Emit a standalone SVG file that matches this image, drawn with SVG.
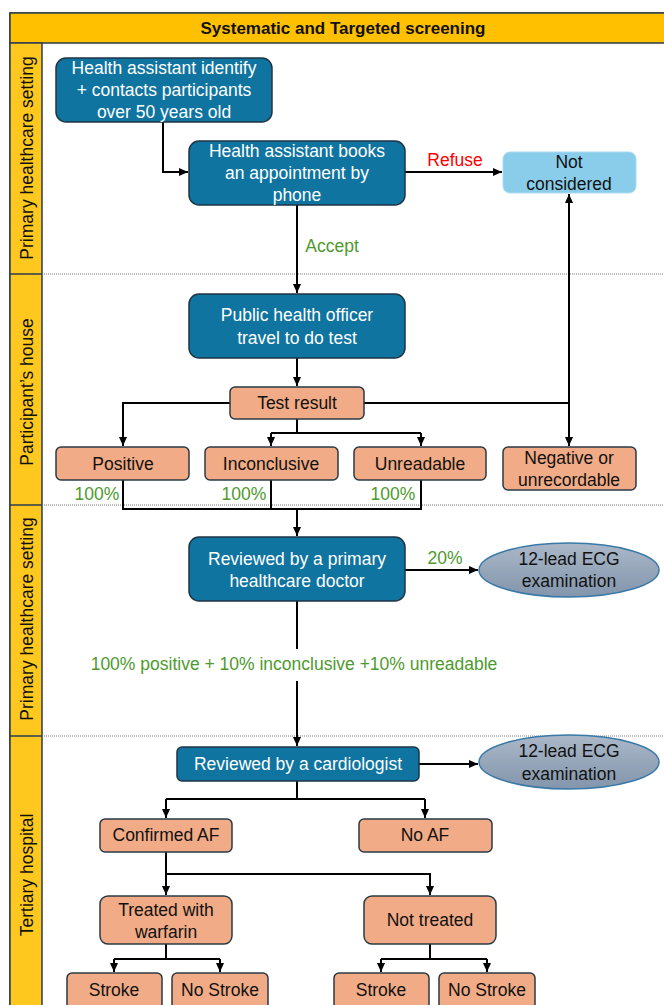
<svg xmlns="http://www.w3.org/2000/svg" width="664" height="1005" viewBox="0 0 664 1005">
<style>
text{font-family:"Liberation Sans",Arial,sans-serif;font-size:17.5px;text-anchor:middle;dominant-baseline:central}
.blue{fill:#0F74A0;stroke:#1E3544;stroke-width:1.5}
.sal{fill:#F1AB86;stroke:#2B3A44;stroke-width:1.5}
.w{fill:#fff}
.k{fill:#111}
.g{fill:#4E9A2E}
.r{fill:#FF0000}
.c{fill:none;stroke:#000;stroke-width:2}
.sep{stroke:#777;stroke-width:1;stroke-dasharray:1 1}
.ell{fill:url(#eg);stroke:#3B79A8;stroke-width:1.5}
.lane{font-size:17.5px;fill:#111}
</style>
<defs>
<marker id="ah" markerWidth="9" markerHeight="8" refX="9" refY="4" orient="auto" markerUnits="userSpaceOnUse">
<path d="M0,0 L9,4 L0,8 z" fill="#000"/>
</marker>
<linearGradient id="eg" x1="0" y1="0" x2="0" y2="1">
<stop offset="0" stop-color="#AAB8C8"/>
<stop offset="1" stop-color="#8395AC"/>
</linearGradient>
</defs>

<g id="frame">
<rect x="10" y="13" width="660" height="1000" fill="#fff" stroke="#2E3B4E" stroke-width="1.5"/>
<rect x="10" y="13" width="660" height="30" fill="#FFC000" stroke="#2E3B4E" stroke-width="1.5"/>
<text x="343" y="28" style="font-weight:bold;font-size:17px" class="k">Systematic and Targeted screening</text>
<rect x="10" y="43" width="32" height="970" fill="#FFC81E" stroke="#2E3B4E" stroke-width="1.5"/>
<line x1="10" y1="274" x2="42" y2="274" stroke="#2E3B4E" stroke-width="1.5"/>
<line x1="10" y1="505" x2="42" y2="505" stroke="#2E3B4E" stroke-width="1.5"/>
<line x1="10" y1="736" x2="42" y2="736" stroke="#2E3B4E" stroke-width="1.5"/>
<line class="sep" x1="42" y1="274" x2="664" y2="274"/>
<line class="sep" x1="42" y1="505" x2="664" y2="505"/>
<line class="sep" x1="42" y1="736" x2="664" y2="736"/>
<text class="lane" transform="translate(27,158) rotate(-90)">Primary healthcare setting</text>
<text class="lane" transform="translate(27,392) rotate(-90)">Participant’s house</text>
<text class="lane" transform="translate(27,619) rotate(-90)">Primary healthcare setting</text>
<text class="lane" transform="translate(27,875) rotate(-90)">Tertiary hospital</text>
</g>

<g id="connectors">
<path class="c" d="M163,122 V172 H188" marker-end="url(#ah)"/>
<path class="c" d="M405,172 H502" marker-end="url(#ah)"/>
<path class="c" d="M297,205 V293" marker-end="url(#ah)"/>
<path class="c" d="M297,358 V386" marker-end="url(#ah)"/>
<path class="c" d="M230,403 H123 V446" marker-end="url(#ah)"/>
<path class="c" d="M364,403 H569"/>
<path class="c" d="M569,403 V194" marker-end="url(#ah)"/>
<path class="c" d="M569,403 V446" marker-end="url(#ah)"/>
<path class="c" d="M297,419 V433"/>
<path class="c" d="M271,433 H421"/>
<path class="c" d="M271,433 V446" marker-end="url(#ah)"/>
<path class="c" d="M421,433 V446" marker-end="url(#ah)"/>
<path class="c" d="M123,480 V509 H421 V480"/>
<path class="c" d="M271,480 V509"/>
<path class="c" d="M297,509 V536" marker-end="url(#ah)"/>
<path class="c" d="M405,570 H478" marker-end="url(#ah)"/>
<path class="c" d="M297,601 V649"/>
<path class="c" d="M297,681 V746" marker-end="url(#ah)"/>
<path class="c" d="M419,764 H478" marker-end="url(#ah)"/>
<path class="c" d="M297,781 V799"/>
<path class="c" d="M166,799 H425"/>
<path class="c" d="M166,799 V818" marker-end="url(#ah)"/>
<path class="c" d="M425,799 V818" marker-end="url(#ah)"/>
<path class="c" d="M166,852 V874 H430 V895" marker-end="url(#ah)"/>
<path class="c" d="M166,874 V895" marker-end="url(#ah)"/>
<path class="c" d="M166,944 V959"/>
<path class="c" d="M114,959 H220"/>
<path class="c" d="M114,959 V972" marker-end="url(#ah)"/>
<path class="c" d="M220,959 V972" marker-end="url(#ah)"/>
<path class="c" d="M430,944 V959"/>
<path class="c" d="M381,959 H487"/>
<path class="c" d="M381,959 V972" marker-end="url(#ah)"/>
<path class="c" d="M487,959 V972" marker-end="url(#ah)"/>
<text class="r" x="455" y="160">Refuse</text>
<text class="g" x="332" y="246">Accept</text>
<text class="g" x="97" y="494">100%</text>
<text class="g" x="244" y="494">100%</text>
<text class="g" x="393" y="494">100%</text>
<text class="g" x="445" y="558">20%</text>
<text class="g" x="294" y="664">100% positive + 10% inconclusive +10% unreadable</text>
</g>

<g id="n-identify">
<rect class="blue" x="56" y="58" width="216" height="64" rx="10"/>
<text class="w" x="164" y="68">Health assistant identify</text>
<text class="w" x="164" y="90">+ contacts participants</text>
<text class="w" x="164" y="112">over 50 years old</text>
</g>
<g id="n-books">
<rect class="blue" x="189" y="141" width="216" height="64" rx="10"/>
<text class="w" x="297" y="151">Health assistant books</text>
<text class="w" x="297" y="173">an appointment by</text>
<text class="w" x="297" y="195">phone</text>
</g>
<g id="n-notconsidered">
<rect x="503" y="152" width="133" height="41" rx="7" fill="#89CDEB" stroke="#A9DAF0" stroke-width="1"/>
<text class="k" x="569" y="162">Not</text>
<text class="k" x="569" y="184">considered</text>
</g>
<g id="n-officer">
<rect class="blue" x="189" y="294" width="216" height="64" rx="10"/>
<text class="w" x="297" y="315">Public health officer</text>
<text class="w" x="297" y="338">travel to do test</text>
</g>
<g id="n-testresult">
<rect class="sal" x="230" y="387" width="134" height="32" rx="5"/>
<text class="k" x="297" y="403">Test result</text>
</g>
<g id="n-positive">
<rect class="sal" x="56" y="447" width="133" height="33" rx="5"/>
<text class="k" x="123" y="464">Positive</text>
</g>
<g id="n-inconclusive">
<rect class="sal" x="205" y="447" width="133" height="33" rx="5"/>
<text class="k" x="271" y="464">Inconclusive</text>
</g>
<g id="n-unreadable">
<rect class="sal" x="354" y="447" width="132" height="33" rx="5"/>
<text class="k" x="420" y="464">Unreadable</text>
</g>
<g id="n-negative">
<rect class="sal" x="503" y="447" width="133" height="43" rx="5"/>
<text class="k" x="569" y="458">Negative or</text>
<text class="k" x="569" y="480">unrecordable</text>
</g>
<g id="n-primarydoctor">
<rect class="blue" x="189" y="537" width="216" height="64" rx="10"/>
<text class="w" x="297" y="559">Reviewed by a primary</text>
<text class="w" x="297" y="581">healthcare doctor</text>
</g>
<g id="n-ecg1">
<ellipse class="ell" cx="569" cy="570" rx="90" ry="27"/>
<text class="k" x="569" y="559">12-lead ECG</text>
<text class="k" x="569" y="581">examination</text>
</g>
<g id="n-cardiologist">
<rect class="blue" x="177" y="747" width="242" height="34" rx="5"/>
<text class="w" x="298" y="764">Reviewed by a cardiologist</text>
</g>
<g id="n-ecg2">
<ellipse class="ell" cx="569" cy="762" rx="90" ry="27"/>
<text class="k" x="569" y="751">12-lead ECG</text>
<text class="k" x="569" y="774">examination</text>
</g>
<g id="n-confirmed">
<rect class="sal" x="100" y="819" width="132" height="33" rx="5"/>
<text class="k" x="166" y="835">Confirmed AF</text>
</g>
<g id="n-noaf">
<rect class="sal" x="359" y="819" width="133" height="33" rx="5"/>
<text class="k" x="425" y="835">No AF</text>
</g>
<g id="n-treated">
<rect class="sal" x="100" y="896" width="132" height="48" rx="8"/>
<text class="k" x="166" y="910">Treated with</text>
<text class="k" x="166" y="932">warfarin</text>
</g>
<g id="n-nottreated">
<rect class="sal" x="364" y="896" width="132" height="48" rx="8"/>
<text class="k" x="430" y="920">Not treated</text>
</g>
<g id="n-stroke1">
<rect class="sal" x="67" y="973" width="95" height="40" rx="5"/>
<text class="k" x="114" y="990">Stroke</text>
</g>
<g id="n-nostroke1">
<rect class="sal" x="172" y="973" width="96" height="40" rx="5"/>
<text class="k" x="220" y="990">No Stroke</text>
</g>
<g id="n-stroke2">
<rect class="sal" x="334" y="973" width="95" height="40" rx="5"/>
<text class="k" x="381" y="990">Stroke</text>
</g>
<g id="n-nostroke2">
<rect class="sal" x="439" y="973" width="96" height="40" rx="5"/>
<text class="k" x="487" y="990">No Stroke</text>
</g>
</svg>
